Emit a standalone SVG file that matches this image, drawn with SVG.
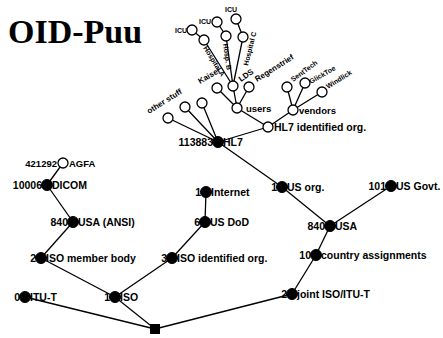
<svg xmlns="http://www.w3.org/2000/svg" width="443" height="338" viewBox="0 0 443 338">
<style>
.t{font-family:"Liberation Sans",Arial,sans-serif;font-weight:bold;font-size:10.5px;fill:#000}
.r{text-anchor:end}
.m{font-family:"Liberation Sans",Arial,sans-serif;font-weight:bold;font-size:9.5px;fill:#000}
.s{font-family:"Liberation Sans",Arial,sans-serif;font-weight:bold;font-size:8px;fill:#000}
.xs{font-family:"Liberation Sans",Arial,sans-serif;font-weight:bold;font-size:7px;fill:#000}
.f{fill:#000;stroke:#000;stroke-width:1}
.o{fill:#fff;stroke:#000;stroke-width:1.3}
#edges line{stroke:#000;stroke-width:1.3}
</style>
<rect width="443" height="338" fill="#fff"/>
<text x="8" y="43" font-family="Liberation Serif,Times New Roman,serif" font-weight="bold" font-size="34">OID-Puu</text>
<g id="edges">
<line x1="25" y1="297" x2="155" y2="329"/>
<line x1="115" y1="297" x2="155" y2="329"/>
<line x1="292" y1="294" x2="155" y2="329"/>
<line x1="115" y1="297" x2="41" y2="258"/>
<line x1="115" y1="297" x2="172" y2="258"/>
<line x1="292" y1="294" x2="316" y2="255"/>
<line x1="41" y1="258" x2="73" y2="222"/>
<line x1="73" y1="222" x2="47" y2="185"/>
<line x1="47" y1="185" x2="63" y2="163"/>
<line x1="172" y1="258" x2="205" y2="222"/>
<line x1="205" y1="222" x2="206" y2="192"/>
<line x1="316" y1="255" x2="330" y2="226"/>
<line x1="330" y1="226" x2="282" y2="187"/>
<line x1="330" y1="226" x2="391" y2="186"/>
<line x1="282" y1="187" x2="218" y2="142"/>
<line x1="218" y1="142" x2="168" y2="118"/>
<line x1="218" y1="142" x2="185" y2="107"/>
<line x1="218" y1="142" x2="202" y2="103"/>
<line x1="218" y1="142" x2="268" y2="127"/>
<line x1="268" y1="127" x2="237" y2="108"/>
<line x1="268" y1="127" x2="293" y2="110"/>
<line x1="237" y1="108" x2="217" y2="88"/>
<line x1="237" y1="108" x2="233" y2="86"/>
<line x1="237" y1="108" x2="249" y2="87"/>
<line x1="293" y1="110" x2="287" y2="87"/>
<line x1="293" y1="110" x2="305" y2="83"/>
<line x1="293" y1="110" x2="322" y2="92"/>
<line x1="233" y1="86" x2="204" y2="40"/>
<line x1="233" y1="86" x2="226" y2="36"/>
<line x1="233" y1="86" x2="243" y2="37"/>
<line x1="204" y1="40" x2="192" y2="30"/>
<line x1="226" y1="36" x2="217" y2="22"/>
<line x1="243" y1="37" x2="236" y2="19"/>
</g>
<g id="root"><rect x="150" y="324" width="10" height="10" fill="#000"/></g>
<g id="itut"><circle class="f" cx="25" cy="297" r="5.5"/><text class="t r" x="20" y="301">0</text><text class="t" x="30" y="301">ITU-T</text></g>
<g id="iso"><circle class="f" cx="115" cy="297" r="5.5"/><text class="t r" x="110" y="301">1</text><text class="t" x="120" y="301">ISO</text></g>
<g id="joint"><circle class="f" cx="292" cy="294" r="5.5"/><text class="t r" x="287" y="298">2</text><text class="t" x="297" y="298">joint ISO/ITU-T</text></g>
<g id="isomember"><circle class="f" cx="41" cy="258" r="5.5"/><text class="t r" x="36" y="262">2</text><text class="t" x="46" y="262">ISO member body</text></g>
<g id="isoorg"><circle class="f" cx="172" cy="258" r="5.5"/><text class="t r" x="167" y="262">3</text><text class="t" x="177" y="262">ISO identified org.</text></g>
<g id="country"><circle class="f" cx="316" cy="255" r="5.5"/><text class="t r" x="311" y="259">10</text><text class="t" x="321" y="259">country assignments</text></g>
<g id="usaansi"><circle class="f" cx="73" cy="222" r="5.5"/><text class="t r" x="68" y="226">840</text><text class="t" x="78" y="226">USA (ANSI)</text></g>
<g id="dicom"><circle class="f" cx="47" cy="185" r="5.5"/><text class="t r" x="42" y="189">10006</text><text class="t" x="52" y="189">DICOM</text></g>
<g id="agfa"><circle class="o" cx="63" cy="163" r="5"/><text class="m r" x="57" y="167">421292</text><text class="m" x="69" y="167">AGFA</text></g>
<g id="dod"><circle class="f" cx="205" cy="222" r="5.5"/><text class="t r" x="200" y="226">6</text><text class="t" x="210" y="226">US DoD</text></g>
<g id="internet"><circle class="f" cx="206" cy="192" r="5.5"/><text class="t r" x="201" y="196">1</text><text class="t" x="211" y="196">Internet</text></g>
<g id="usa"><circle class="f" cx="330" cy="226" r="5.5"/><text class="t r" x="325" y="230">840</text><text class="t" x="335" y="230">USA</text></g>
<g id="usorg"><circle class="f" cx="282" cy="187" r="5.5"/><text class="t r" x="277" y="191">1</text><text class="t" x="287" y="191">US org.</text></g>
<g id="usgovt"><circle class="f" cx="391" cy="186" r="5.5"/><text class="t r" x="386" y="190">101</text><text class="t" x="396" y="190">US Govt.</text></g>
<g id="hl7"><circle class="f" cx="218" cy="142" r="5.5"/><text class="t r" x="213" y="146">113883</text><text class="t" x="223" y="146">HL7</text></g>
<g id="hl7org"><circle class="o" cx="268" cy="127" r="5"/><text class="t" x="274" y="131">HL7 identified org.</text></g>
<g id="users"><circle class="o" cx="237" cy="108" r="5"/><text class="m" x="246" y="112">users</text></g>
<g id="vendors"><circle class="o" cx="293" cy="110" r="5"/><text class="m" x="299" y="114">vendors</text></g>
<g id="other1"><circle class="o" cx="168" cy="118" r="5"/><text class="s" transform="translate(149,114) rotate(-32)">other stuff</text></g>
<g id="other2"><circle class="o" cx="185" cy="107" r="5"/></g>
<g id="other3"><circle class="o" cx="202" cy="103" r="5"/></g>
<g id="kaiser"><circle class="o" cx="217" cy="88" r="5"/><text class="s" transform="translate(200,84) rotate(-30)">Kaiser</text></g>
<g id="lds"><circle class="o" cx="233" cy="86" r="5"/><text class="s" transform="translate(241,82) rotate(-35)">LDS</text></g>
<g id="regenstrief"><circle class="o" cx="249" cy="87" r="5"/><text class="s" transform="translate(257,82) rotate(-32)">Regenstrief</text></g>
<g id="vend1"><circle class="o" cx="287" cy="87" r="5"/><text class="xs" transform="translate(293,82) rotate(-36)">SentTech</text></g>
<g id="vend2"><circle class="o" cx="305" cy="83" r="5"/><text class="xs" transform="translate(311,84) rotate(-30)">GlickToe</text></g>
<g id="vend3"><circle class="o" cx="322" cy="92" r="5"/><text class="xs" transform="translate(328,89) rotate(-32)">Windlick</text></g>
<g id="lds1"><circle class="o" cx="204" cy="40" r="5"/><text class="xs" transform="translate(203,48) rotate(58)">Hospital A</text></g>
<g id="lds2"><circle class="o" cx="226" cy="36" r="5"/><text class="xs" transform="translate(223,44) rotate(82)">Hosp. B</text></g>
<g id="lds3"><circle class="o" cx="243" cy="37" r="5"/><text class="xs" transform="translate(248,66) rotate(-76)">Hospital C</text></g>
<g id="icu1"><circle class="o" cx="192" cy="30" r="5"/><text class="xs r" x="187" y="33">ICU</text></g>
<g id="icu2"><circle class="o" cx="217" cy="22" r="5"/><text class="xs r" x="211" y="24">ICU</text></g>
<g id="icu3"><circle class="o" cx="236" cy="19" r="5"/><text class="xs" x="225" y="12">ICU</text></g>
</svg>
